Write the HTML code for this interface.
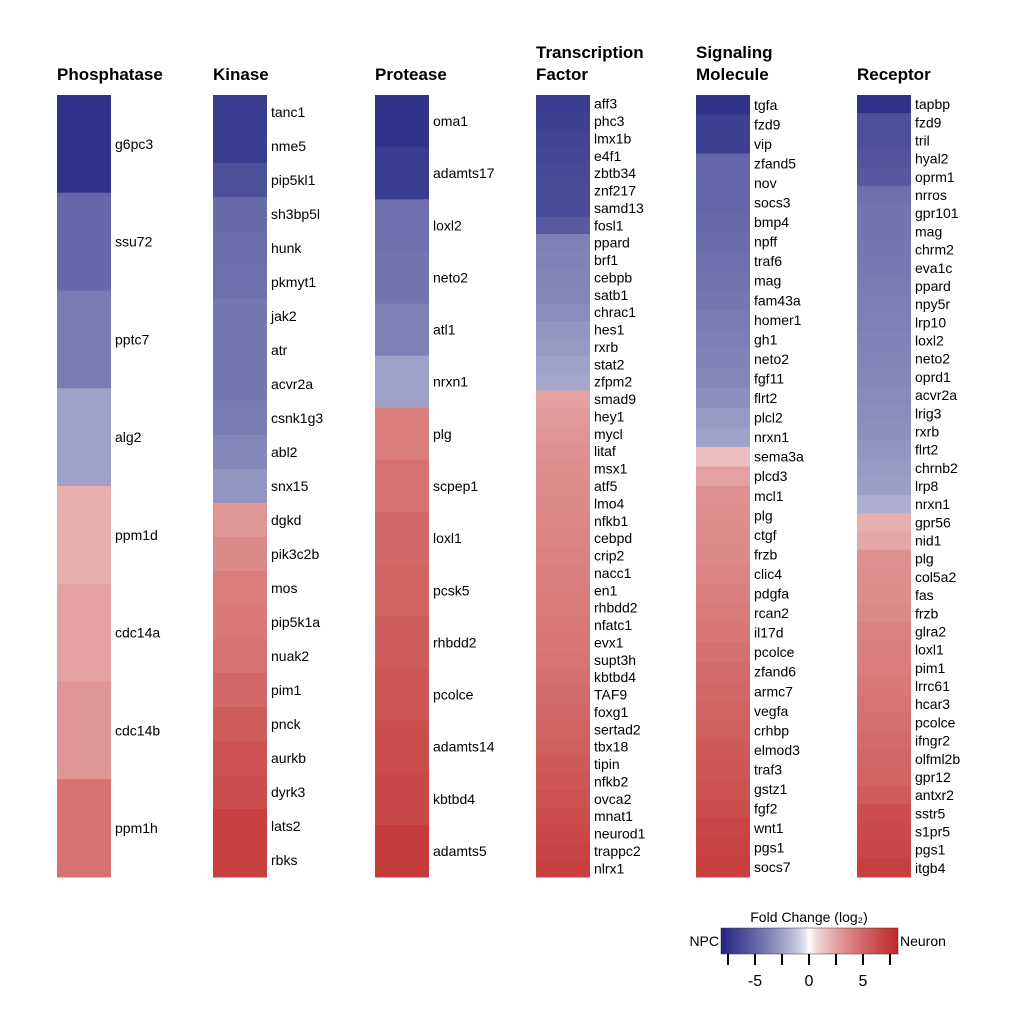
<!DOCTYPE html>
<html><head><meta charset="utf-8"><style>
body{margin:0;background:#fff;width:1026px;height:1008px;overflow:hidden;font-family:"Liberation Sans",Arial,sans-serif}
svg text{font-family:"Liberation Sans",Arial,sans-serif}
</style></head><body>
<svg id="c" width="1026" height="1008"></svg>
<script>
const phosGenes=["g6pc3","ssu72","pptc7","alg2","ppm1d","cdc14a","cdc14b","ppm1h"];
const phosVals=[-7.5,-5,-4,-2.5,2,2.5,3,4.5];
const kinGenes=["tanc1","nme5","pip5kl1","sh3bp5l","hunk","pkmyt1","jak2","atr","acvr2a","csnk1g3","abl2","snx15","dgkd","pik3c2b","mos","pip5k1a","nuak2","pim1","pnck","aurkb","dyrk3","lats2","rbks"];
const kinVals=[-7,-7,-6,-4.8,-4.6,-4.5,-4.2,-4.2,-4.2,-4,-3.5,-3,3,3.5,4,4.2,4.5,5,5.5,6,6.2,7,7];
const proGenes=["oma1","adamts17","loxl2","neto2","atl1","nrxn1","plg","scpep1","loxl1","pcsk5","rhbdd2","pcolce","adamts14","kbtbd4","adamts5"];
const proVals=[-7.5,-7,-4.5,-4.3,-3.8,-2.5,4,4.5,5,5.2,5.5,5.8,6.2,6.5,7.2];
const tfGenes=["aff3","phc3","lmx1b","e4f1","zbtb34","znf217","samd13","fosl1","ppard","brf1","cebpb","satb1","chrac1","hes1","rxrb","stat2","zfpm2","smad9","hey1","mycl","litaf","msx1","atf5","lmo4","nfkb1","cebpd","crip2","nacc1","en1","rhbdd2","nfatc1","evx1","supt3h","kbtbd4","TAF9","foxg1","sertad2","tbx18","tipin","nfkb2","ovca2","mnat1","neurod1","trappc2","nlrx1"];
const tfVals=[-7,-6.8,-6.6,-6.5,-6.4,-6.3,-6.3,-5.5,-3.8,-3.7,-3.6,-3.5,-3.3,-3,-2.8,-2.5,-2.3,2.5,2.8,3,3.2,3.3,3.4,3.5,3.6,3.7,3.8,3.9,4,4.1,4.2,4.3,4.4,4.6,4.8,5,5.2,5.4,5.6,5.8,6,6.2,6.5,6.7,7];
const sigGenes=["tgfa","fzd9","vip","zfand5","nov","socs3","bmp4","npff","traf6","mag","fam43a","homer1","gh1","neto2","fgf11","flrt2","plcl2","nrxn1","sema3a","plcd3","mcl1","plg","ctgf","frzb","clic4","pdgfa","rcan2","il17d","pcolce","zfand6","armc7","vegfa","crhbp","elmod3","traf3","gstz1","fgf2","wnt1","pgs1","socs7"];
const sigVals=[-7.5,-6.8,-6.8,-5,-5,-4.9,-4.8,-4.7,-4.5,-4.4,-4.2,-4,-3.9,-3.7,-3.5,-3.2,-2.8,-2.5,1.5,2.5,3.2,3.3,3.4,3.5,3.7,3.9,4.1,4.3,4.6,4.8,5,5.2,5.4,5.6,5.8,6,6.2,6.6,6.8,7];
const recGenes=["tapbp","fzd9","tril","hyal2","oprm1","nrros","gpr101","mag","chrm2","eva1c","ppard","npy5r","lrp10","loxl2","neto2","oprd1","acvr2a","lrig3","rxrb","flrt2","chrnb2","lrp8","nrxn1","gpr56","nid1","plg","col5a2","fas","frzb","glra2","loxl1","pim1","lrrc61","hcar3","pcolce","ifngr2","olfml2b","gpr12","antxr2","sstr5","s1pr5","pgs1","itgb4"];
const recVals=[-7.5,-6,-6,-5.8,-5.6,-4.5,-4.3,-4.3,-4.2,-4.1,-4,-3.9,-3.8,-3.7,-3.6,-3.5,-3.4,-3.3,-3.2,-3,-2.8,-2.6,-2,2,2.3,3.2,3.3,3.4,3.5,3.8,3.9,4,4.2,4.4,4.6,4.8,5,5.2,5.5,6.2,6.4,6.6,7];
const titles=[["Phosphatase"],["Kinase"],["Protease"],["Transcription","Factor"],["Signaling","Molecule"],["Receptor"]];
const colTicks=[-7.5,-5,-2.5,0,2.5,5,7.5];
const colTickLabels=["","-5","","0","","5",""];

const NS="http://www.w3.org/2000/svg";
const svg=document.getElementById('c');
function mk(t,a,p){const e=document.createElementNS(NS,t);for(const k in a)e.setAttribute(k,a[k]);(p||svg).appendChild(e);return e;}
const BLUE=[34,38,130],RED=[192,40,40];
function color(v){const t=Math.max(-1,Math.min(1,v/8.2));const c=t<0?BLUE:RED;const f=Math.pow(Math.abs(t),0.7);
 return `rgb(${Math.round(255+(c[0]-255)*f)},${Math.round(255+(c[1]-255)*f)},${Math.round(255+(c[2]-255)*f)})`;}
const groups=[[phosGenes,phosVals],[kinGenes,kinVals],[proGenes,proVals],[tfGenes,tfVals],[sigGenes,sigVals],[recGenes,recVals]];
const xs=[57,213,375,536,696,857];
const topY=95,botY=877,W=54;
groups.forEach((g,i)=>{
 const genes=g[0],vals=g[1];const x=xs[i];const h=(botY-topY)/vals.length;
 const tl=titles[i];
 tl.forEach((s,j)=>{const t=mk('text',{x:x,y:(tl.length==2?58+j*22:80),'font-size':17,'font-weight':'bold',fill:'#000'});t.textContent=s;
  
  });
 vals.forEach((v,k)=>{
  const r=mk('rect',{x:x,y:topY+k*h,width:W,height:h+0.5,fill:color(v)});
  
  
  const t=mk('text',{x:x+W+4,y:topY+k*h+h/2+5,'font-size':14,fill:'#000'});t.textContent=genes[k];
  
  
 });
});
const cbx0=721,cbx1=898,cby=928,cbh=26;
const defs=mk('defs',{});const lg=mk('linearGradient',{id:'g',x1:0,x2:1,y1:0,y2:0},defs);
for(let i=0;i<=40;i++){const v=-8.2+16.4*i/40;mk('stop',{offset:(i*2.5)+'%','stop-color':color(v)},lg);}
const cb=mk('rect',{x:cbx0,y:cby,width:cbx1-cbx0,height:cbh,fill:'url(#g)',stroke:'#333','stroke-width':0.5});


const sx=v=>809+v*(27/2.5);
colTicks.forEach((v,i)=>{mk('line',{x1:sx(v),x2:sx(v),y1:cby+cbh,y2:cby+cbh+11,stroke:'#000','stroke-width':2});
 const t=mk('text',{x:sx(v),y:986,'font-size':16,'text-anchor':'middle'});t.textContent=colTickLabels[i];
 
 });
const ct=mk('text',{x:809,y:922,'font-size':14,'text-anchor':'middle'});ct.textContent='Fold Change (log₂)';


const l1=mk('text',{x:719,y:946,'font-size':14,'text-anchor':'end'});l1.textContent='NPC';


const l2=mk('text',{x:900,y:946,'font-size':14});l2.textContent='Neuron';


</script>
</body></html>
